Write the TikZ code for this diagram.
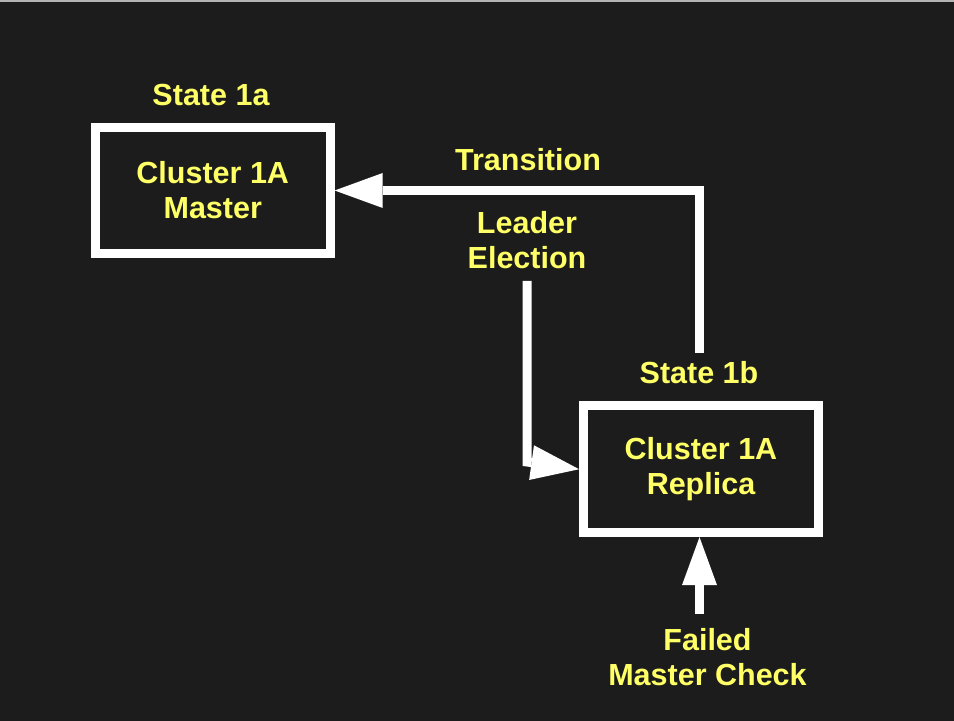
\documentclass[tikz,border=0pt]{standalone}
\usepackage{fontspec}
\setmainfont{Liberation Sans}
\usepackage{tikz}
\usetikzlibrary{arrows.meta,positioning,calc}
\definecolor{bgdark}{HTML}{1C1C1C}
\definecolor{labelyellow}{HTML}{FFFF66}
\definecolor{topedge}{HTML}{B4B4B4}

\begin{document}
\begin{tikzpicture}[
    statebox/.style={draw=white, line width=0.225cm, fill=bgdark, inner sep=0pt,
        minimum width=5.87cm, minimum height=3.17cm, align=center,
        text=labelyellow, font=\fontsize{21.7pt}{24.9pt}\selectfont\bfseries},
    lbl/.style={text=labelyellow, align=center, inner sep=0pt,
        font=\fontsize{21.7pt}{24.9pt}\selectfont\bfseries},
    flow/.style={draw=white, line width=0.225cm,
        -{Triangle[length=1.2cm, width=0.875cm, line width=0pt]}}
]
    % Background
    \fill[bgdark] (0,0) rectangle (23.85,18.025);
    \fill[topedge] (0,17.975) rectangle (23.85,18.025);
    \useasboundingbox (0,0) rectangle (23.85,18.025);

    % States
    \node[statebox] (master) at (5.319,13.2625) {Cluster 1A\\Master};
    \node[statebox] (replica) at (17.525,6.294) {Cluster 1A\\Replica};

    % Labels
    \node[lbl, anchor=base] (state1a) at (5.275,15.375) {State 1a};
    \node[lbl, anchor=base] (state1b) at (17.475,8.425) {State 1b};
    \node[lbl, anchor=base] (trans) at (13.2,13.7575) {Transition};
    \node[lbl] (elect) at (13.175,12.025) {Leader\\Election};
    \node[lbl] (failed) at (17.6875,1.6) {Failed\\Master Check};

    % Free ends of the connectors
    \coordinate (transstart) at (17.4875,9.2);
    \coordinate (electstart) at (13.175,11.0);
    \coordinate (electbend) at (13.175,6.475);
    \coordinate (failstart) at (17.4875,2.675);

    % Connectors
    \draw[flow] (transstart) |- (master.east);
    \draw[flow] (electstart) -- (electbend) -- (replica.west);
    \draw[flow] (failstart) -- (failstart |- replica.south);
\end{tikzpicture}
\end{document}
